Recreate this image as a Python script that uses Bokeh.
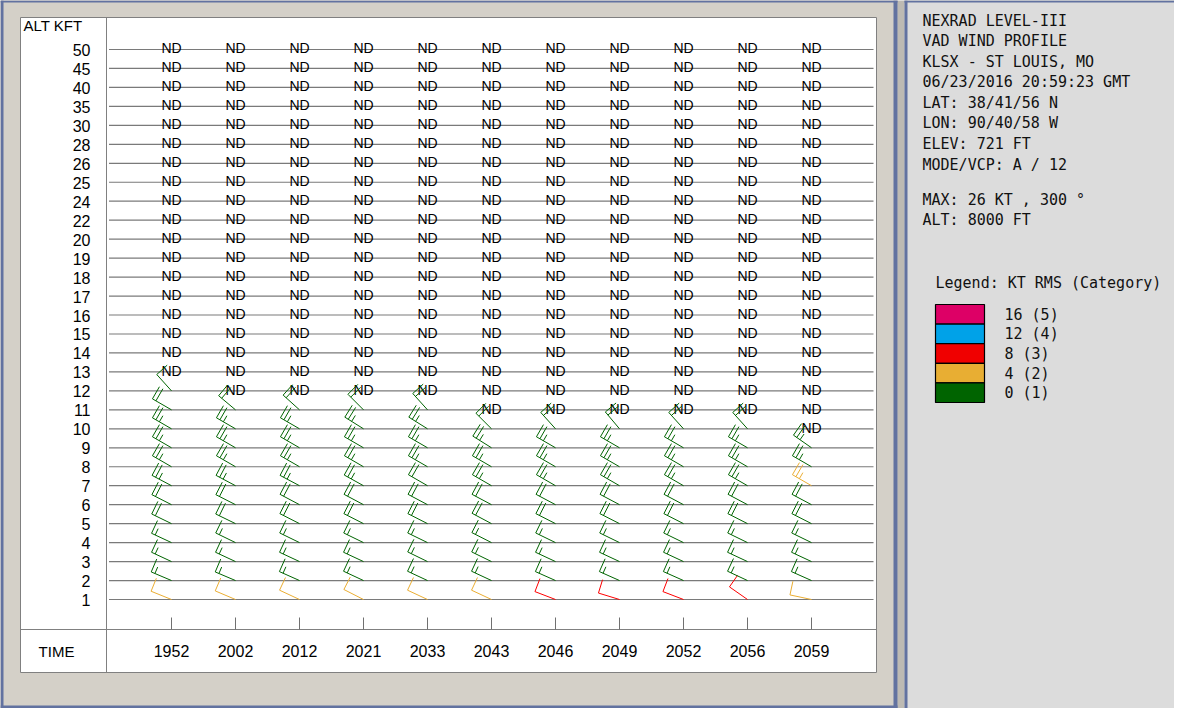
import math
from bokeh.plotting import figure
from bokeh.models import Range1d, ColumnDataSource
from bokeh.embed import file_html
from bokeh.resources import INLINE
from bokeh.core.properties import value

# ---------------- data ----------------
times = ["1952", "2002", "2012", "2021", "2033", "2043", "2046", "2049", "2052", "2056", "2059"]
levels = ["1", "2", "3", "4", "5", "6", "7", "8", "9", "10", "11", "12", "13", "14", "15",
          "16", "17", "18", "19", "20", "22", "24", "25", "26", "28", "30", "35", "40", "45", "50"]

# wind speed (kt) per time, from the lowest level upward; levels above have no data (ND)
speed_kt = [
    [10, 15, 15, 15, 20, 20, 25, 25, 25, 25, 20, 10],
    [10, 15, 15, 15, 20, 20, 25, 25, 25, 25, 20],
    [10, 15, 15, 15, 20, 20, 25, 25, 25, 25, 20],
    [10, 15, 15, 15, 20, 20, 25, 25, 25, 25, 20],
    [10, 15, 15, 15, 20, 20, 20, 25, 25, 25, 20],
    [10, 15, 15, 15, 20, 20, 25, 25, 25, 20],
    [10, 15, 15, 15, 20, 20, 25, 25, 25, 20],
    [10, 15, 15, 15, 20, 20, 25, 25, 25, 20],
    [10, 15, 15, 15, 20, 20, 25, 25, 25, 20],
    [10, 15, 15, 15, 20, 20, 25, 25, 25, 20],
    [10, 15, 15, 15, 20, 20, 25, 26, 25],
]
# wind direction (degrees, from)
direction_deg = [
    [292, 293, 295, 295, 296, 297, 298, 300, 300, 300, 300, 318],
    [293, 293, 295, 296, 296, 297, 298, 300, 300, 300, 310],
    [295, 294, 295, 296, 297, 298, 298, 300, 300, 300, 312],
    [297, 295, 295, 296, 297, 298, 299, 300, 300, 302, 315],
    [295, 295, 296, 296, 297, 298, 300, 300, 300, 302, 318],
    [295, 295, 296, 297, 298, 298, 300, 300, 302, 315],
    [291, 294, 295, 296, 297, 298, 300, 300, 300, 318],
    [287, 294, 295, 296, 297, 298, 300, 300, 300, 320],
    [291, 294, 295, 296, 297, 298, 300, 300, 300, 318],
    [305, 295, 295, 296, 297, 298, 300, 300, 300, 318],
    [282, 294, 295, 296, 297, 298, 300, 300, 305],
]
# RMS category (1..5)
rms_category = [
    [2, 1, 1, 1, 1, 1, 1, 1, 1, 1, 1, 1],
    [2, 1, 1, 1, 1, 1, 1, 1, 1, 1, 1],
    [2, 1, 1, 1, 1, 1, 1, 1, 1, 1, 1],
    [2, 1, 1, 1, 1, 1, 1, 1, 1, 1, 1],
    [2, 1, 1, 1, 1, 1, 1, 1, 1, 1, 1],
    [2, 1, 1, 1, 1, 1, 1, 1, 1, 1],
    [3, 1, 1, 1, 1, 1, 1, 1, 1, 1],
    [3, 1, 1, 1, 1, 1, 1, 1, 1, 1],
    [3, 1, 1, 1, 1, 1, 1, 1, 1, 1],
    [3, 1, 1, 1, 1, 1, 1, 1, 1, 1],
    [2, 1, 1, 1, 1, 1, 2, 1, 1],
]

legend_labels = ["16 (5)", "12 (4)", "8 (3)", "4 (2)", "0 (1)"]
legend_colors = ["#DD0066", "#00A2E8", "#F00000", "#E8AE33", "#006400"]
category_colors = {1: "#006400", 2: "#EBAE33", 3: "#FF0000", 4: "#00A2E8", 5: "#DD0066"}

info_lines = ["NEXRAD LEVEL-III", "VAD WIND PROFILE", "KLSX - ST LOUIS, MO",
              "06/23/2016 20:59:23 GMT", "LAT: 38/41/56 N", "LON: 90/40/58 W",
              "ELEV: 721 FT", "MODE/VCP: A / 12"]
max_lines = ["MAX: 26 KT , 300 \u00b0", "ALT: 8000 FT"]
legend_title = "Legend: KT RMS (Category)"

# ---------------- geometry (page pixels -> data units) ----------------
X0_PX, DX_PX = 179.0, 64.0                 # first time column, spacing
Y0_PX, DY_PX = 607.0, (607.0 - 57.0) / 29  # lowest level line, spacing
TXT = -5.5                                  # text baseline correction (px)


def X(px):
    return (px - X0_PX) / DX_PX


def Y(py):
    return (Y0_PX - py) / DY_PX


W, H = 1174, 708
p = figure(width=W, height=H, x_range=Range1d(X(8), X(8 + W)), y_range=Range1d(Y(8 + H), Y(8)),
           output_backend="svg", toolbar_location=None, x_axis_location=None, y_axis_location=None,
           min_border=0, outline_line_color=None, title=None,
           background_fill_color="#BDBAB3", border_fill_color="#BDBAB3")
p.grid.visible = False

BORDER = "#6272A0"
# left panel
p.quad(left=[X(8)], right=[X(905)], bottom=[Y(716)], top=[Y(8)], fill_color="#D4D0C8", line_color=None)
p.quad(left=[X(8), X(8), X(901), X(8)], right=[X(11), X(905), X(905), X(905)],
       bottom=[Y(716), Y(10), Y(716), Y(716)], top=[Y(8), Y(8), Y(8), Y(713)],
       fill_color=BORDER, line_color=None)
# right panel
p.quad(left=[X(912)], right=[X(1190)], bottom=[Y(716)], top=[Y(8)], fill_color="#DCDCDC", line_color=None)
p.quad(left=[X(912), X(912)], right=[X(915), X(1190)], bottom=[Y(716), Y(10)], top=[Y(8), Y(8)],
       fill_color=BORDER, line_color=None)

# white chart box
p.quad(left=[X(28)], right=[X(884)], bottom=[Y(680)], top=[Y(25)], fill_color="white",
       line_color="#808080", line_width=1)
p.segment(x0=[X(114), X(28)], y0=[Y(25), Y(637)], x1=[X(114), X(884)], y1=[Y(680), Y(637)],
          line_color="#808080", line_width=1)

# level lines
nl = len(levels)
p.segment(x0=[X(116.5)] * nl, y0=list(range(nl)), x1=[X(881)] * nl, y1=list(range(nl)),
          line_color="#7A7A7A", line_width=1.2)

# time ticks
nt = len(times)
p.segment(x0=list(range(nt)), y0=[Y(625)] * nt, x1=list(range(nt)), y1=[Y(637)] * nt,
          line_color="#707070", line_width=1)

# axis-like labels
lab_font = value("Liberation Sans")
p.text(x=[X(98)] * nl, y=[j + Y(Y0_PX + 6 + TXT) for j in range(nl)], text=levels,
       text_font=lab_font, text_font_size=value("16px"), text_align="right",
       text_baseline="alphabetic", text_color="black")
p.text(x=list(range(nt)), y=[Y(665 + TXT - 1)] * nt, text=times, text_font=lab_font,
       text_font_size=value("16px"), text_align="center", text_baseline="alphabetic", text_color="black")
p.text(x=[X(64)], y=[Y(665 + TXT - 1)], text=["TIME"], text_font=lab_font, text_font_size=value("15px"),
       text_align="center", text_baseline="alphabetic", text_color="black")
p.text(x=[X(31)], y=[Y(38 + TXT)], text=["ALT KFT"], text_font=lab_font, text_font_size=value("15px"),
       text_align="left", text_baseline="alphabetic", text_color="black")

# ND texts
nd_x, nd_y = [], []
for i in range(nt):
    for j in range(len(speed_kt[i]), nl):
        nd_x.append(i)
        nd_y.append(j + Y(Y0_PX + 4.3 + TXT))
p.text(x=nd_x, y=nd_y, text=["ND"] * len(nd_x), text_font=lab_font, text_font_size=value("14px"),
       text_align="center", text_baseline="alphabetic", text_color="black")

# wind barbs
STAFF, BARB, SPACE = 22.0, 14.0, 4.0
bx0, by0, bx1, by1, bc = [], [], [], [], []
for i in range(nt):
    for j, (spd, d, cat) in enumerate(zip(speed_kt[i], direction_deg[i], rms_category[i])):
        col = category_colors[cat]
        sd, cd = math.sin(math.radians(d)), math.cos(math.radians(d))
        ax, ay = float(i), float(j)
        tx, ty = ax + STAFF * sd / DX_PX, ay + STAFF * cd / DY_PX
        bx0.append(ax); by0.append(ay); bx1.append(tx); by1.append(ty); bc.append(col)
        s5 = int(round(spd / 5.0))
        n_full, n_half = s5 // 2, s5 % 2
        k = 0
        for length in [BARB] * n_full + [BARB / 2] * n_half:
            px_ = tx - k * SPACE * sd / DX_PX
            py_ = ty - k * SPACE * cd / DY_PX
            bx0.append(px_); by0.append(py_)
            bx1.append(px_ + length * cd / DX_PX); by1.append(py_ - length * sd / DY_PX)
            bc.append(col)
            k += 1
p.segment(source=ColumnDataSource(dict(x0=bx0, y0=by0, x1=bx1, y1=by1, c=bc)),
          x0="x0", y0="y0", x1="x1", y1="y1", line_color="c", line_width=1)

# right panel text
mono = value("DejaVu Sans Mono")
info_base = [34, 54, 74.5, 95, 115.5, 136, 156.5, 177.5]
p.text(x=[X(930)] * len(info_lines), y=[Y(b + TXT) for b in info_base], text=info_lines, text_font=mono,
       text_font_size=value("15px"), text_align="left", text_baseline="alphabetic", text_color="#111111")
p.text(x=[X(930)] * 2, y=[Y(212.5 + TXT), Y(233 + TXT)], text=max_lines, text_font=mono,
       text_font_size=value("15px"), text_align="left", text_baseline="alphabetic", text_color="#111111")
p.text(x=[X(943)], y=[Y(295.5 + TXT)], text=[legend_title], text_font=mono,
       text_font_size=value("15px"), text_align="left", text_baseline="alphabetic", text_color="#111111")

# legend swatches
n = len(legend_labels)
top_px, row_px = 312.0, 19.6
p.quad(left=[X(943)] * n, right=[X(992)] * n,
       top=[Y(top_px + k * row_px) for k in range(n)], bottom=[Y(top_px + (k + 1) * row_px) for k in range(n)],
       fill_color=legend_colors, line_color="black", line_width=1.2)
p.text(x=[X(1012)] * n, y=[Y(top_px + (k + 0.5) * row_px + 6 + TXT) for k in range(n)], text=legend_labels,
       text_font=mono, text_font_size=value("15px"), text_align="left", text_baseline="alphabetic",
       text_color="#111111")

open("out.html", "w").write(file_html(p, INLINE))
